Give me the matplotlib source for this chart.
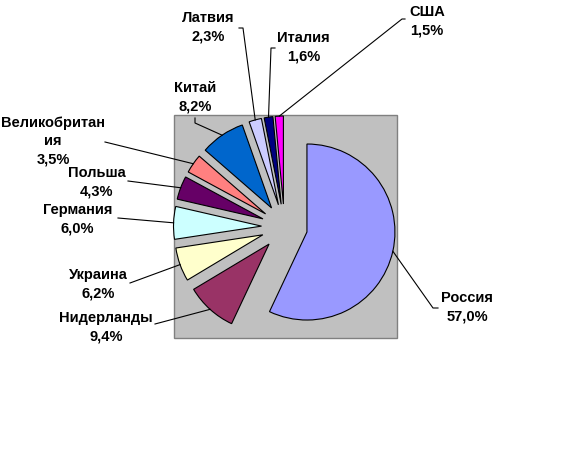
import numpy as np
import matplotlib
matplotlib.use("Agg")
import matplotlib.pyplot as plt
from matplotlib.patches import Rectangle

W, H = 572, 453

countries = ["Россия", "Нидерланды", "Украина", "Германия", "Польша",
             "Великобритан\nия", "Китай", "Латвия", "Италия", "США"]
shares = [57.0, 9.4, 6.2, 6.0, 4.3, 3.5, 8.2, 2.3, 1.6, 1.5]
colors = ["#9999FF", "#993366", "#FFFFCC", "#CCFFFF", "#660066",
          "#FF8080", "#0066CC", "#CCCCFF", "#000080", "#FF00FF"]

# label centre (pixels from top-left) and leader-line path on the label side
label_pos = [(467, 307), (106, 327), (98, 284), (77.5, 219), (97, 182),
             (53, 141), (195, 97), (208, 27), (303.5, 47.5), (427, 21)]
leader = [[(438, 308), (433, 308)], [(155, 324)], [(130, 283)],
          [(118, 218)], [(128, 181)], [(105, 142)],
          [(195, 118), (195, 123)], [(239, 28), (243, 28)],
          [(275, 48), (271, 48)], [(405, 19), (402, 19)]]

plt.rcParams['font.family'] = ['Liberation Sans', 'DejaVu Sans']

fig = plt.figure(figsize=(W / 100, H / 100), dpi=100)
ax = fig.add_axes([0, 0, 1, 1])

# grey plot area
ax.add_patch(Rectangle((174, H - 338), 223, 223, facecolor="#C0C0C0",
                       edgecolor="#808080", linewidth=1, zorder=0))

# explode is in data units here (pixels)
wedges, _ = ax.pie(shares, explode=[23] * len(shares), colors=colors,
                   startangle=90, counterclock=False,
                   center=(284.5, H - 227), radius=88,
                   wedgeprops=dict(edgecolor="black", linewidth=0.8))

for w, name, val, (lx, ly), path in zip(wedges, countries, shares,
                                        label_pos, leader):
    ax.text(lx, H - ly, name + "\n" + f"{val:.1f}%".replace(".", ","),
            ha="center", va="center", multialignment="center",
            fontsize=10.5, fontweight="bold", linespacing=1.4)
    mid = np.radians((w.theta1 + w.theta2) / 2)
    ex = w.center[0] + w.r * np.cos(mid)
    ey = w.center[1] + w.r * np.sin(mid)
    xs = [p[0] for p in path] + [ex]
    ys = [H - p[1] for p in path] + [ey]
    ax.plot(xs, ys, color="black", linewidth=0.8)

ax.set_xlim(0, W)
ax.set_ylim(0, H)
ax.set_aspect("equal")
ax.axis("off")

fig.savefig("out.png", dpi=100, facecolor="white")
